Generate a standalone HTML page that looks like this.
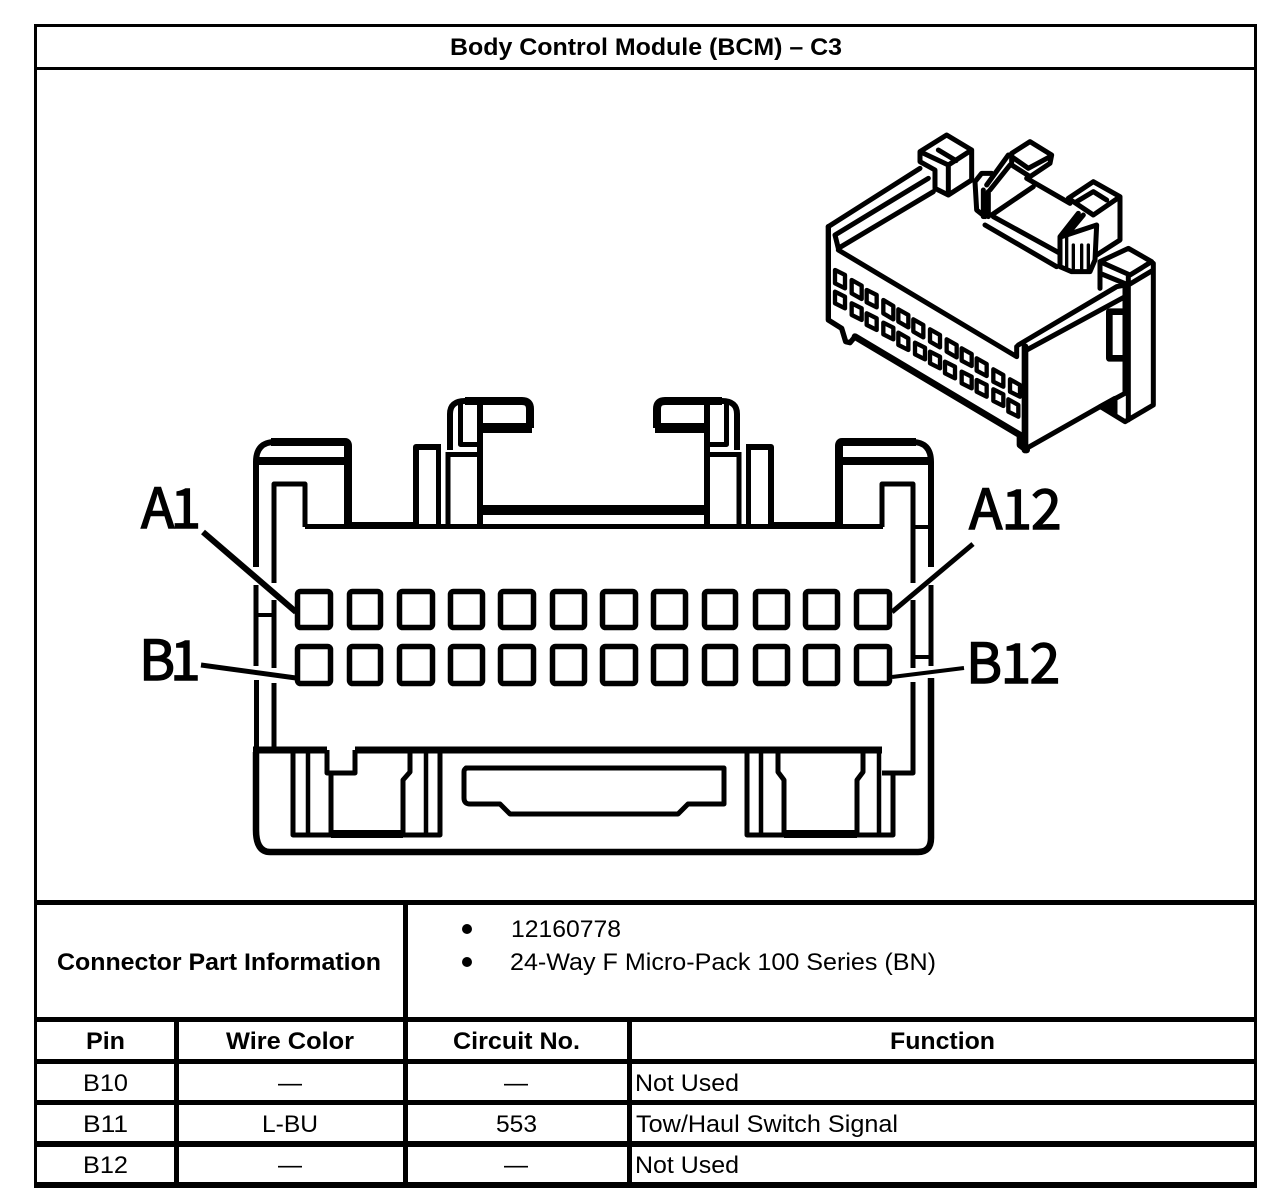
<!DOCTYPE html>
<html><head><meta charset="utf-8"><style>
html,body{margin:0;padding:0;background:#fff}
svg{display:block}
text{font-family:"Liberation Sans",sans-serif;font-size:24px;fill:#000}
.b{font-weight:bold}
.L{font-family:"Noto Sans CJK JP","Liberation Sans",sans-serif;font-size:55px;stroke:#000;stroke-width:1.4px}
</style></head><body>
<svg width="1280" height="1204" viewBox="0 0 1280 1204" xmlns="http://www.w3.org/2000/svg">
<rect width="1280" height="1204" fill="#fff"/>

<!-- table grid -->
<g fill="#000">
<rect x="34" y="24" width="1223" height="3"/>
<rect x="34" y="67" width="1223" height="3"/>
<rect x="34" y="900" width="1223" height="5"/>
<rect x="34" y="1017" width="1223" height="5"/>
<rect x="34" y="1059" width="1223" height="5"/>
<rect x="34" y="1100" width="1223" height="5"/>
<rect x="34" y="1141" width="1223" height="6"/>
<rect x="34" y="1182" width="1223" height="6"/>
<rect x="34" y="24" width="3" height="1164"/>
<rect x="1254" y="24" width="3" height="1164"/>
<rect x="403" y="900" width="5" height="288"/>
<rect x="174" y="1017" width="5" height="171"/>
<rect x="627" y="1017" width="5" height="171"/>
</g>

<!-- table text -->
<text class="b" x="450" y="55" textLength="392" lengthAdjust="spacingAndGlyphs">Body Control Module (BCM) – C3</text>
<text class="b" x="57" y="970" textLength="324" lengthAdjust="spacingAndGlyphs">Connector Part Information</text>
<circle cx="467" cy="929" r="5" fill="#000"/>
<circle cx="467" cy="962" r="5" fill="#000"/>
<text x="511" y="937" textLength="110" lengthAdjust="spacingAndGlyphs">12160778</text>
<text x="510" y="970" textLength="426" lengthAdjust="spacingAndGlyphs">24-Way F Micro-Pack 100 Series (BN)</text>

<text class="b" x="86" y="1049" textLength="39" lengthAdjust="spacingAndGlyphs">Pin</text>
<text class="b" x="226" y="1049" textLength="128" lengthAdjust="spacingAndGlyphs">Wire Color</text>
<text class="b" x="453" y="1049" textLength="127" lengthAdjust="spacingAndGlyphs">Circuit No.</text>
<text class="b" x="890" y="1049" textLength="105" lengthAdjust="spacingAndGlyphs">Function</text>

<text x="83" y="1091" textLength="45" lengthAdjust="spacingAndGlyphs">B10</text>
<text x="278" y="1091">—</text>
<text x="504" y="1091">—</text>
<text x="635" y="1091" textLength="104" lengthAdjust="spacingAndGlyphs">Not Used</text>

<text x="83" y="1132" textLength="45" lengthAdjust="spacingAndGlyphs">B11</text>
<text x="262" y="1132" textLength="56" lengthAdjust="spacingAndGlyphs">L-BU</text>
<text x="496" y="1132" textLength="41" lengthAdjust="spacingAndGlyphs">553</text>
<text x="636" y="1132" textLength="262" lengthAdjust="spacingAndGlyphs">Tow/Haul Switch Signal</text>

<text x="83" y="1173" textLength="45" lengthAdjust="spacingAndGlyphs">B12</text>
<text x="278" y="1173">—</text>
<text x="504" y="1173">—</text>
<text x="635" y="1173" textLength="104" lengthAdjust="spacingAndGlyphs">Not Used</text>

<!-- front-view connector -->
<g fill="none" stroke="#000" stroke-width="5" stroke-linejoin="round">
<defs>
<g id="half">
  <!-- corner block -->
  <path stroke-width="6" d="M256 567V462Q256 442 275 442H345"/>
  <path stroke-width="8" d="M271 442H345Q348 442 348 446V526"/>
  <path stroke-width="8" d="M257 461H348"/>
  <!-- inner channel -->
  <path d="M274 583V484H305V527"/>
  <path d="M274 600V668M274 683V750"/>
  <path d="M256 585V666M256.500 680V750"/>
  <!-- tab -->
  <path stroke-width="6" d="M416 526V447H441"/>
  <path stroke-width="5" d="M438.500 447V526M448 452V526"/>
  <path stroke-width="6" d="M450 450V414Q450 401 465 401H480"/>
  <path stroke-width="8" d="M465 401H522Q530 401 530 409V428"/>
  <path stroke-width="5" d="M460.500 403V444.500H480M448 454.500H480"/>
  <path stroke-width="10" d="M480 428H532"/>
  <path stroke-width="6" d="M480 403V526"/>
</g>
</defs>
<use href="#half"/>
<use href="#half" transform="translate(1187,0) scale(-1,1)"/>

<path stroke-width="5" d="M305 526.500H883"/>
<path stroke-width="7" d="M348 525.500H415M772 525.500H838"/>
<path stroke-width="10" d="M480 510H707"/>
<path d="M256 615H274M913 527H931M913 657H931" stroke-width="4"/>

<!-- lower band -->
<path stroke-width="7" d="M253 750H327M355 750H882"/>
<path stroke-width="5" d="M327 750V773H355V750"/>
<path d="M293 750V835H440V750"/>
<path stroke-width="4.500" d="M308 750V835M426 750V835"/>
<path d="M331 773V835M410 750V772L403 780V835"/>
<path stroke-width="8" d="M331 834H403"/>
<path d="M747 750V835H893V773"/>
<path stroke-width="4.500" d="M761 750V835M879 750V835"/>
<path d="M778 750V772L784 780V835M863 750V772L857 780V835"/>
<path stroke-width="8" d="M784 834H857"/>
<path d="M882 773H913V682"/>

<!-- outer bottom -->
<path stroke-width="6.500" d="M256 752V830Q256 852 270 852H918Q931 852 931 838V678"/>
<path d="M931 585V665"/>

<!-- bottom centre slot -->
<path d="M466 768H724V804H688L678 814H510L500 804H470Q464 804 464 798V772Q464 768 468 768Z"/>

<!-- pins -->
<g stroke-width="5.500">
<rect x="297.500" y="591.500" width="33" height="36" rx="3"/><rect x="349.500" y="591.500" width="31" height="36" rx="3"/><rect x="399.500" y="591.500" width="33" height="36" rx="3"/><rect x="450.500" y="591.500" width="32" height="36" rx="3"/><rect x="500.500" y="591.500" width="33" height="36" rx="3"/><rect x="552.500" y="591.500" width="32" height="36" rx="3"/><rect x="602.500" y="591.500" width="33" height="36" rx="3"/><rect x="653.500" y="591.500" width="32" height="36" rx="3"/><rect x="704.500" y="591.500" width="31" height="36" rx="3"/><rect x="755.500" y="591.500" width="32" height="36" rx="3"/><rect x="805.500" y="591.500" width="32" height="36" rx="3"/><rect x="856.500" y="591.500" width="33" height="36" rx="3"/>
<rect x="297.500" y="646.500" width="33" height="37" rx="3"/><rect x="349.500" y="646.500" width="31" height="37" rx="3"/><rect x="399.500" y="646.500" width="33" height="37" rx="3"/><rect x="450.500" y="646.500" width="32" height="37" rx="3"/><rect x="500.500" y="646.500" width="33" height="37" rx="3"/><rect x="552.500" y="646.500" width="32" height="37" rx="3"/><rect x="602.500" y="646.500" width="33" height="37" rx="3"/><rect x="653.500" y="646.500" width="32" height="37" rx="3"/><rect x="704.500" y="646.500" width="31" height="37" rx="3"/><rect x="755.500" y="646.500" width="32" height="37" rx="3"/><rect x="805.500" y="646.500" width="32" height="37" rx="3"/><rect x="856.500" y="646.500" width="33" height="37" rx="3"/>
</g>

<!-- leaders -->
<path stroke-width="6" d="M203 532L296 612"/>
<path stroke-width="5" d="M201 665L296 678"/>
<path stroke-width="5" d="M973 544L892 612"/>
<path stroke-width="4" d="M964 668L892 677"/>
</g>

<text class="L" x="141" y="528" letter-spacing="-4">A1</text>
<text class="L" x="139" y="680" letter-spacing="-5">B1</text>
<text class="L" x="969" y="529" letter-spacing="-1">A12</text>
<text class="L" x="966" y="683" letter-spacing="-1.500">B12</text>

<!-- isometric connector -->
<g transform="translate(800,120) scale(0.33333)" fill="none" stroke="#000" stroke-width="15" stroke-linejoin="round" stroke-linecap="round">
<path stroke-width="16" d="M85 320V600L125 625L137 665L150 668L165 650"/>
<path stroke-width="20" d="M165 650L660 945V975L680 990"/>
<path d="M85 320L360 145M105 345L385 175M115 385L400 215M105 345L115 385"/>
<path stroke-width="15" d="M115 390L650 710V680"/>
<path stroke-width="20" d="M675 680V990"/>
<path d="M655 675L950 500M680 690L975 530M950 500L975 495V820"/>
<path d="M680 985L900 860L975 820"/>
<path stroke-width="20" d="M975 575H928V715H975"/>
<!-- right tab -->
<path d="M900 425L985 385L1055 425L990 465L900 425V505M1060 430V855L975 905L910 865M985 465V900M900 460L985 495L1060 450"/>
<path fill="#000" d="M900 860L945 835V880Z"/>
<!-- left tab -->
<path d="M360 95L440 45L515 90V180L445 225L405 205V150L360 125V95ZM360 95L445 135L515 90M445 135V225M415 90L468 122"/>
<!-- middle tab -->
<path d="M635 100L690 65L755 105L750 130L690 170L635 135ZM635 110L685 145L750 110"/>
<path d="M525 185L545 160L575 160M525 185L530 270L555 290M625 105L560 195M630 135L570 210M550 210V290M565 215V290M575 285L700 200"/>
<path d="M555 315L770 440M580 290L780 400"/>
<path d="M680 175L810 250"/>
<!-- rear tab -->
<path d="M805 235L880 185L960 230V360L890 405M805 235L880 285L960 230M830 245L880 215L920 240"/>
<path d="M835 280L780 350V440L815 455L870 455L885 420L890 315L785 350M850 285L800 345"/>
<path stroke-width="10" d="M800 350V440M820 375V445M845 375V450M865 375V455"/>
<!-- pins -->
<g stroke-width="13">
<path d="M105 450L135 465V505L105 490ZM155 480L185 497V537L155 520ZM200 510L230 525V562L200 547ZM250 540L280 558V598L250 580ZM295 568L325 585V622L295 605ZM340 598L370 615V652L340 635ZM390 628L420 645V682L390 665ZM440 658L470 675V712L440 695ZM485 685L515 702V738L485 722ZM530 715L560 732V768L530 752ZM580 748L610 765V800L580 785ZM630 778L660 795V830L630 815Z"/>
<path d="M105 515L135 530V565L105 550ZM155 550L185 565V600L155 585ZM200 580L230 595V630L200 615ZM250 608L280 623V658L250 643ZM295 638L325 655V690L295 675ZM345 668L375 683V718L345 703ZM390 695L420 710V745L390 730ZM435 725L465 740V775L435 760ZM485 755L515 770V805L485 790ZM530 780L560 795V830L530 815ZM580 808L610 823V858L580 843ZM625 838L655 855V890L625 875Z"/>
</g>
</g>
</svg>
</body></html>
